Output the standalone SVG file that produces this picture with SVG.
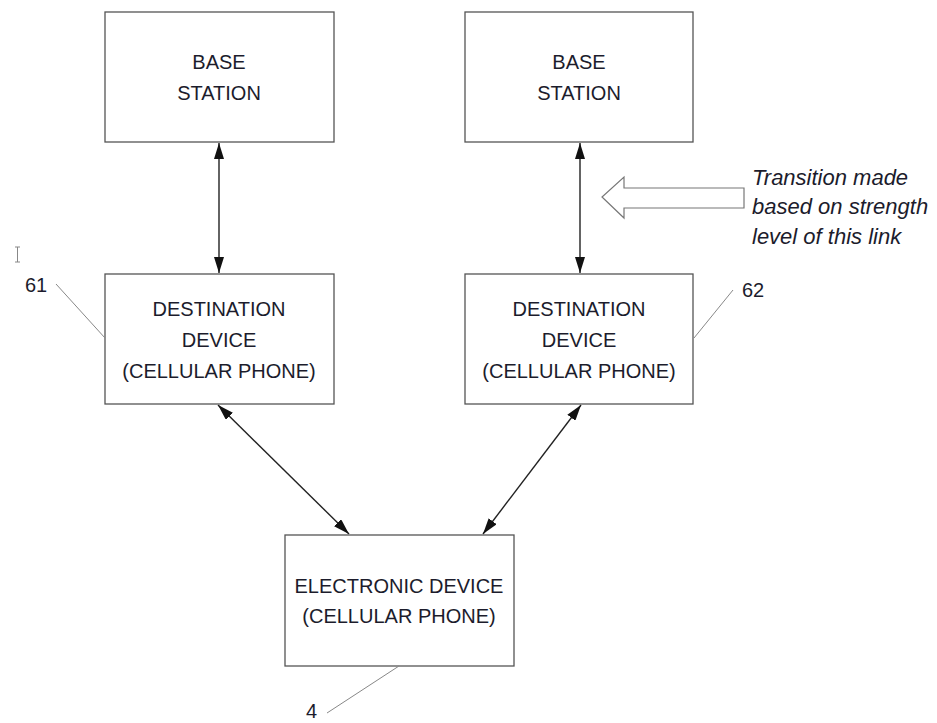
<svg xmlns="http://www.w3.org/2000/svg" width="937" height="723" viewBox="0 0 937 723">
<style>
.box{fill:#fff;stroke:#555;stroke-width:1.3}
.t{font-family:"Liberation Sans",Arial,sans-serif;font-size:20px;fill:#1c1c2c;text-anchor:middle}
.it{font-family:"Liberation Sans",Arial,sans-serif;font-size:22px;font-style:italic;fill:#1c1c2c}
.lbl{font-family:"Liberation Sans",Arial,sans-serif;font-size:20px;fill:#1c1c2c}
.conn{stroke:#222;stroke-width:1.4;fill:none;marker-start:url(#ah);marker-end:url(#ah)}
.lead{stroke:#888;stroke-width:1;fill:none}
</style>
<defs>
<marker id="ah" viewBox="0 0 16 10" refX="16" refY="5" markerWidth="16" markerHeight="10" markerUnits="userSpaceOnUse" orient="auto-start-reverse">
<path d="M0,0 L16,5 L0,10 Z" fill="#111"/>
</marker>
</defs>
<rect width="937" height="723" fill="#fff"/>
<g id="connectors">
<line class="conn" x1="219" y1="143" x2="219" y2="273"/>
<line class="conn" x1="580" y1="143" x2="580" y2="273"/>
<line class="conn" x1="218" y1="405" x2="349" y2="534"/>
<line class="conn" x1="581" y1="405" x2="483" y2="534"/>
</g>
<g id="bs1"><rect class="box" x="105" y="12" width="229" height="130"/>
<text class="t" x="219" y="69">BASE</text><text class="t" x="219" y="100">STATION</text></g>
<g id="bs2"><rect class="box" x="465" y="12" width="228" height="130"/>
<text class="t" x="579" y="69">BASE</text><text class="t" x="579" y="100">STATION</text></g>
<g id="dd1"><rect class="box" x="105" y="274" width="229" height="130"/>
<text class="t" x="219" y="316">DESTINATION</text><text class="t" x="219" y="347">DEVICE</text><text class="t" x="219" y="378">(CELLULAR PHONE)</text></g>
<g id="dd2"><rect class="box" x="465" y="274" width="228" height="130"/>
<text class="t" x="579" y="316">DESTINATION</text><text class="t" x="579" y="347">DEVICE</text><text class="t" x="579" y="378">(CELLULAR PHONE)</text></g>
<g id="ed"><rect class="box" x="285" y="535" width="229" height="131"/>
<text class="t" x="399" y="593">ELECTRONIC DEVICE</text><text class="t" x="399" y="623">(CELLULAR PHONE)</text></g>
<g id="transition">
<path d="M744,188 L624,188 L624,177 L602,197 L624,218 L624,208 L744,208 Z" fill="#fff" stroke="#777" stroke-width="1.2"/>
<text class="it" x="752" y="185">Transition made</text>
<text class="it" x="752" y="214">based on strength</text>
<text class="it" x="752" y="244">level of this link</text>
</g>
<g id="labels">
<line class="lead" x1="56" y1="284" x2="105" y2="338"/>
<text class="lbl" x="25" y="292">61</text>
<line class="lead" x1="733" y1="290" x2="694" y2="338"/>
<text class="lbl" x="742" y="297">62</text>
<line class="lead" x1="327" y1="713" x2="399" y2="666"/>
<text class="lbl" x="306" y="718">4</text>
<path d="M15,247 H20 M17.5,247 V262 M15,262 H20" stroke="#888" stroke-width="1" fill="none"/>
</g>
</svg>
